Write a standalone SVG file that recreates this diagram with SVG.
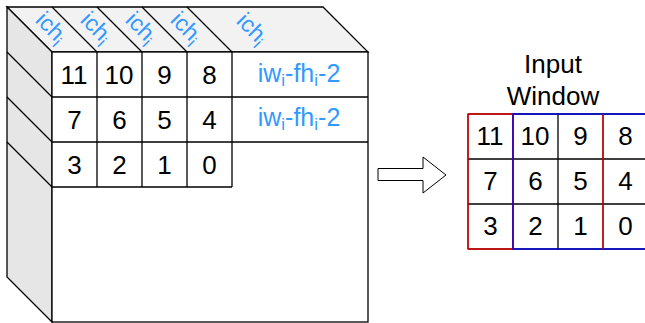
<svg xmlns="http://www.w3.org/2000/svg" width="645" height="323" viewBox="0 0 645 323">
<style>
  .ln{stroke:#000;stroke-width:1.3;fill:none}
  .num{font-family:"Liberation Sans",Arial,sans-serif;font-size:26px;fill:#000;text-anchor:middle}
  .blue{font-family:"Liberation Sans",Arial,sans-serif;fill:#3399ff;text-anchor:middle}
  .ich{font-size:23px}
  .sub{font-size:17px}
  .lbl{font-family:"Liberation Sans",Arial,sans-serif;font-size:26px;fill:#000;text-anchor:middle}
</style>
<rect width="645" height="323" fill="#fff"/>
<g id="cube">
  <polygon points="7,7 323,7 368,52 52,52" class="ln" style="fill:#f2f2f2"/>
  <polygon points="7,7 52,52 52,322 7,277" class="ln" style="fill:#e6e6e6"/>
  <rect x="52" y="52" width="316" height="270" class="ln" style="fill:#fff"/>
  <path class="ln" d="M52,7L97,52M97,7L142,52M142,7L187,52M187,7L232,52M7,52L52,97M7,97L52,142M7,142L52,187"/>
  <path class="ln" d="M97,52V187M142,52V187M187,52V187M232,52V187M52,97H368M52,142H368M52,187H232"/>
</g>
<g id="ich-labels">
  <text class="blue ich" transform="translate(51,28) rotate(45)" y="7">ich<tspan class="sub" dy="5">i</tspan></text>
  <text class="blue ich" transform="translate(96,28) rotate(45)" y="7">ich<tspan class="sub" dy="5">i</tspan></text>
  <text class="blue ich" transform="translate(141,28) rotate(45)" y="7">ich<tspan class="sub" dy="5">i</tspan></text>
  <text class="blue ich" transform="translate(186,28) rotate(45)" y="7">ich<tspan class="sub" dy="5">i</tspan></text>
  <text class="blue ich" transform="translate(252,29) rotate(45)" y="7">ich<tspan class="sub" dy="5">i</tspan></text>
</g>
<g id="cube-cells">
  <g id="c11"><text class="num" x="74" y="84">11</text></g>
  <g id="c10"><text class="num" x="119" y="84">10</text></g>
  <g id="c9"><text class="num" x="164.5" y="84">9</text></g>
  <g id="c8"><text class="num" x="209.5" y="84">8</text></g>
  <g id="c7"><text class="num" x="74.5" y="129">7</text></g>
  <g id="c6"><text class="num" x="119.5" y="129">6</text></g>
  <g id="c5"><text class="num" x="164.5" y="129">5</text></g>
  <g id="c4"><text class="num" x="209.5" y="129">4</text></g>
  <g id="c3"><text class="num" x="74.5" y="174">3</text></g>
  <g id="c2"><text class="num" x="119.5" y="174">2</text></g>
  <g id="c1"><text class="num" x="164.5" y="174">1</text></g>
  <g id="c0"><text class="num" x="209.5" y="174">0</text></g>
  <g id="row1-label"><text class="blue" font-size="25" x="299" y="82">iw<tspan class="sub" dy="4">i</tspan><tspan dy="-4">-fh</tspan><tspan class="sub" dy="4">i</tspan><tspan dy="-4">-2</tspan></text></g>
  <g id="row2-label"><text class="blue" font-size="25" x="299" y="126">iw<tspan class="sub" dy="4">i</tspan><tspan dy="-4">-fh</tspan><tspan class="sub" dy="4">i</tspan><tspan dy="-4">-2</tspan></text></g>
</g>
<g id="connectors">
  <polygon id="arrow" points="378,168.5 423,168.5 423,157 446,175 423,193 423,180.5 378,180.5" fill="#fff" stroke="#000" stroke-width="1"/>
</g>
<g id="input-window">
  <text class="lbl" x="553" y="73">Input</text>
  <text class="lbl" x="553" y="105">Window</text>
  <path class="ln" d="M468,114H648M468,159H648M468,204H648M468,249H648M468,114V249M513,114V249M558,114V249M603,114V249"/>
  <rect x="468" y="114" width="45" height="135" fill="none" stroke="#ff0000" stroke-width="1.3"/>
  <rect x="513" y="114" width="135" height="135" fill="none" stroke="#0000ff" stroke-width="1.3"/>
  <line x1="603" y1="114" x2="603" y2="249" stroke="#ff0000" stroke-width="1.3"/>
  <text class="num" x="490" y="145">11</text>
  <text class="num" x="535" y="145">10</text>
  <text class="num" x="580.5" y="145">9</text>
  <text class="num" x="625.5" y="145">8</text>
  <text class="num" x="490.5" y="190">7</text>
  <text class="num" x="535.5" y="190">6</text>
  <text class="num" x="580.5" y="190">5</text>
  <text class="num" x="625.5" y="190">4</text>
  <text class="num" x="490.5" y="235">3</text>
  <text class="num" x="535.5" y="235">2</text>
  <text class="num" x="580.5" y="235">1</text>
  <text class="num" x="625.5" y="235">0</text>
</g>
</svg>
